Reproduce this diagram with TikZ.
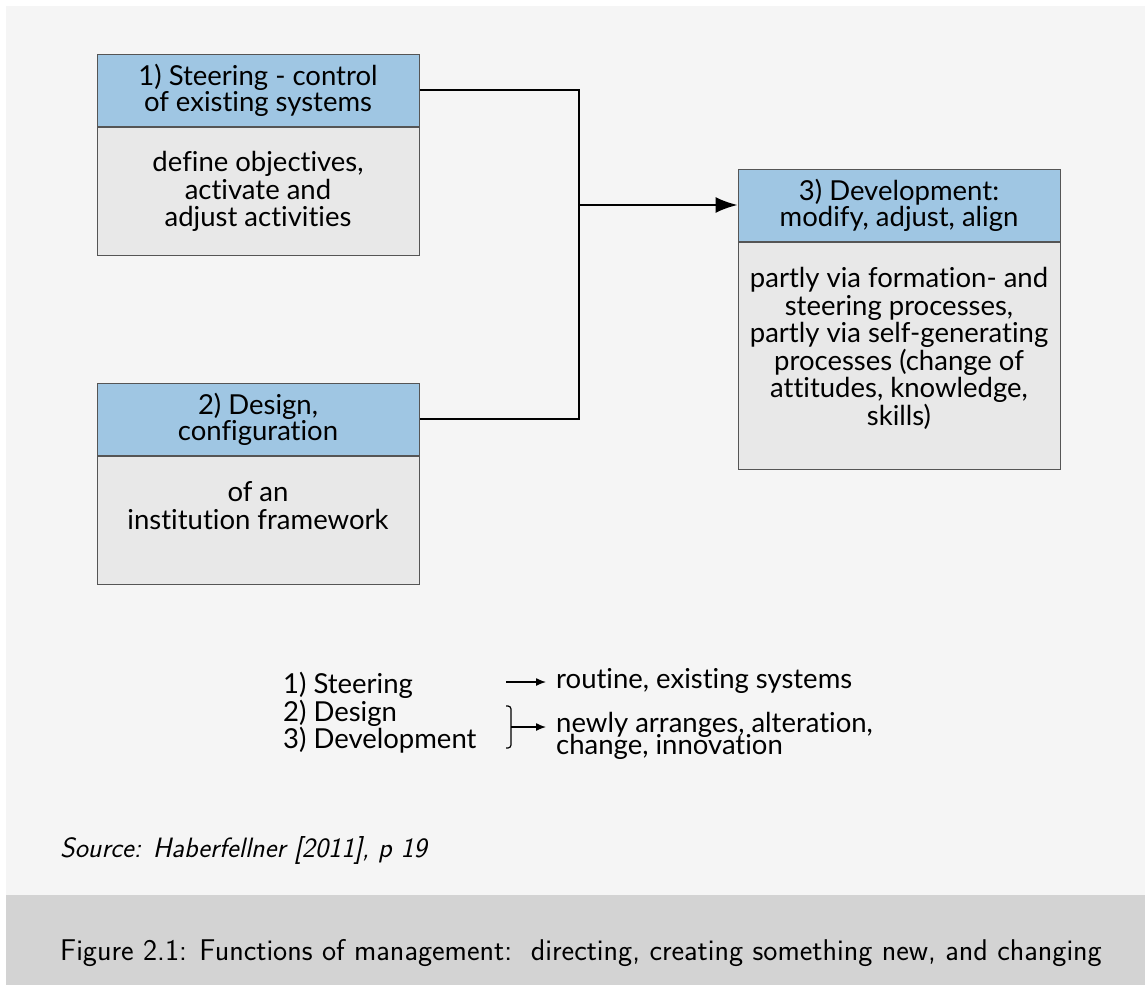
\documentclass[tikz,border=0pt]{standalone}
\usepackage{fontspec}
\setmainfont{Lato}[Ligatures=NoCommon]
\usetikzlibrary{arrows.meta,positioning}
\definecolor{pagebg}{HTML}{F5F5F5}
\definecolor{capbg}{HTML}{D3D3D3}
\definecolor{hdrblue}{HTML}{9FC6E3}
\definecolor{bodygray}{HTML}{E8E8E8}
\definecolor{edge}{HTML}{555555}
\begin{document}
\begin{tikzpicture}[x=1pt,y=-1pt,
  hdr/.style={draw=edge,line width=1pt,fill=hdrblue,minimum width=322pt,minimum height=72pt,
    inner sep=0pt,align=center,font=\fontsize{27.5}{26}\selectfont},
  bodybox/.style={draw=edge,line width=1pt,fill=bodygray,minimum width=322pt,inner sep=0pt},
  bodytext/.style={anchor=north,align=center,inner sep=0pt,font=\fontsize{27.5}{27.5}\selectfont},
  legend/.style={inner sep=0pt,font=\fontsize{27.5}{27.5}\selectfont},
  conn/.style={line width=2pt},
  tip/.style={-{Latex[length=22pt,width=16pt]}},
  smalltip/.style={line width=1.3pt,-{Latex[length=10pt,width=8pt]}}]
\useasboundingbox (0,0) rectangle (1145,985);
% page background and caption band
\fill[white] (0,0) rectangle (1145,985);
\fill[pagebg] (6,6) rectangle (1145,895);
\fill[capbg] (6,895) rectangle (1145,985);

% box 1
\node[hdr] (h1) at (258,90) {1) Steering - control\\of existing systems};
\node[bodybox,minimum height=128pt,anchor=north] (b1) at (h1.south) {};
\node[bodytext] (t1) at ([yshift=-25pt]b1.north) {define objectives,\\activate and\\adjust activities};

% box 2
\node[hdr] (h2) at (258,419) {2) Design,\\configuration};
\node[bodybox,minimum height=128pt,anchor=north] (b2) at (h2.south) {};
\node[bodytext] (t2) at ([yshift=-26pt]b2.north) {of an\\institution framework};

% box 3
\node[hdr] (h3) at (899,205) {3) Development:\\modify, adjust, align};
\node[bodybox,minimum height=227pt,anchor=north] (b3) at (h3.south) {};
\node[bodytext] (t3) at ([yshift=-26pt]b3.north) {partly via formation- and\\steering processes,\\partly via self-generating\\processes (change of\\attitudes, knowledge,\\skills)};

% connectors
\coordinate (j) at (579,205);
\draw[conn] (h1.east) -| (j) |- (h2.east);
\draw[conn,tip] (j) -- (h3.west);

% legend
\node[legend,anchor=north west,align=left] (l1) at (283,672) {1) Steering\\2) Design\\3) Development};
\node[legend,anchor=west] (r1) at (556,681) {routine, existing systems};
\node[legend,anchor=north west,align=left] (r2) at (556,712) {newly arranges, alteration,\\[-5pt]change, innovation};
\coordinate (a1) at (506,682);
\coordinate (a2) at (546,682);
\draw[smalltip] (a1) -- (a2);
\draw[line width=1.2pt,rounded corners=3pt] (506,706) -- (511,706) -- (511,748) -- (506,748);
\coordinate (bm) at (511,727);
\coordinate (bh) at (546,727);
\draw[smalltip] (bm) -- (bh);

% source and caption
\node[anchor=west,inner sep=0pt,font=\sffamily\itshape\fontsize{28}{32}\selectfont] (src) at (60,850) {Source: Haberfellner [2011], p 19};
\node[anchor=west,inner sep=0pt,font=\sffamily\fontsize{30}{34}\selectfont] (cap) at (60,953) {Figure 2.1: Functions of management:\ \ directing, creating something new, and changing};
\end{tikzpicture}
\end{document}
